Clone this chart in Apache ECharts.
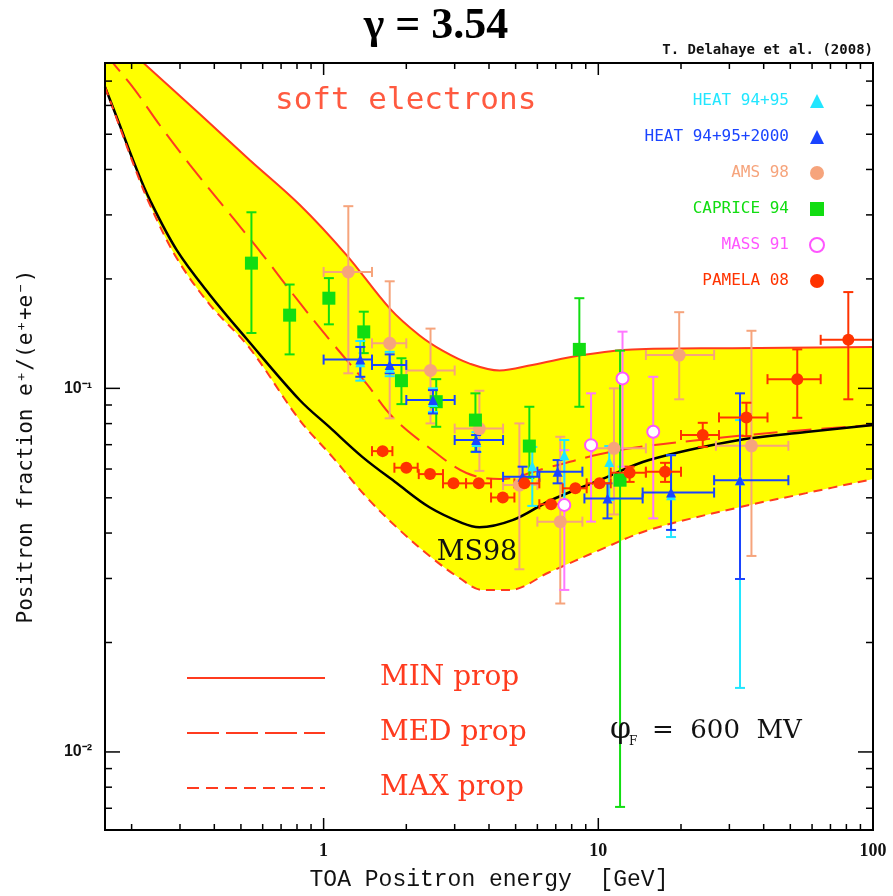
<!DOCTYPE html>
<html>
<head>
<meta charset="utf-8">
<title>Positron fraction, gamma = 3.54</title>
<script src="https://cdn.jsdelivr.net/npm/echarts@6/dist/echarts.min.js"></script>
<style>
html, body { margin: 0; padding: 0; background: #fff; }
#chart { width: 893px; height: 896px; }
</style>
</head>
<body>
<div id="chart"></div>
<script>
// model curves, [energy GeV, e+/(e+ + e-)]
var minProp = [[0.16, 0.98], [0.22, 0.787], [0.354, 0.568], [0.538, 0.425], [0.818, 0.320], [1.21, 0.233],
  [1.74, 0.166], [2.23, 0.140], [2.71, 0.127], [3.40, 0.117], [4.37, 0.112], [5.75, 0.116], [8.75, 0.1235],
  [13.3, 0.128], [30.7, 0.129], [100, 0.130]];
var medProp = [[0.16, 0.839], [0.171, 0.786], [0.2055, 0.662], [0.253, 0.530], [0.326, 0.412], [0.475, 0.290],
  [0.600, 0.233], [0.818, 0.172], [1.078, 0.133], [1.433, 0.103], [1.782, 0.0834], [2.49, 0.0676], [3.31, 0.0585],
  [4.37, 0.0563], [6.63, 0.0607], [10.1, 0.0659], [14.1, 0.0690], [23.3, 0.0721], [45.5, 0.0758], [100, 0.0793]];
var maxProp = [[0.16, 0.675], [0.181, 0.524], [0.2055, 0.404], [0.233, 0.320], [0.292, 0.228], [0.385, 0.170],
  [0.538, 0.129], [0.818, 0.0818], [1.078, 0.0647], [1.433, 0.0502], [1.889, 0.0408], [2.49, 0.0341], [3.12, 0.0301],
  [3.79, 0.0279], [4.75, 0.0279], [6.63, 0.0312], [10.1, 0.0359], [15.3, 0.0408], [32.6, 0.0471], [57.1, 0.0515],
  [100, 0.0563]];
var ms98 = [[0.16, 0.675], [0.181, 0.530], [0.2055, 0.412], [0.233, 0.330], [0.292, 0.240], [0.385, 0.181],
  [0.525, 0.1367], [0.818, 0.0929], [1.051, 0.0782], [1.386, 0.0647], [1.843, 0.0549], [2.429, 0.0471], [3.20, 0.0426],
  [3.69, 0.0415], [4.87, 0.0434], [6.63, 0.0490], [10.1, 0.0559], [15.3, 0.0635], [32.6, 0.0721], [57.1, 0.0758],
  [100, 0.0793]];

// measurements, [E, E low, E high, fraction, fraction low, fraction high]
var heat9495 = [
  [1.36, 1.36, 1.36, 0.118, 0.105, 0.135], [1.74, 1.74, 1.74, 0.114, 0.108, 0.126],
  [2.50, 2.50, 2.50, 0.0917, 0.0861, 0.100], [3.60, 3.60, 3.60, 0.0712, 0.0668, 0.0758],
  [5.75, 5.75, 5.75, 0.0611, 0.0475, 0.0690], [7.52, 7.52, 7.52, 0.0655, 0.0469, 0.0721],
  [10.96, 10.96, 10.96, 0.0627, 0.0493, 0.0694], [18.4, 18.4, 18.4, 0.0508, 0.0390, 0.0655],
  [32.8, 32.8, 32.8, 0.0559, 0.0150, 0.0818]];
var heat2000 = [
  [1.36, 1.0, 1.5, 0.120, 0.1076, 0.130], [1.74, 1.5, 2.0, 0.116, 0.110, 0.124],
  [2.50, 2.0, 3.0, 0.0929, 0.0853, 0.0989], [3.59, 3.0, 4.5, 0.0721, 0.0669, 0.0744],
  [5.30, 4.5, 6.1, 0.0571, 0.0553, 0.0609], [7.11, 6.0, 8.75, 0.0590, 0.0548, 0.0635],
  [10.8, 8.9, 14.5, 0.0498, 0.0439, 0.0548], [18.4, 14.5, 26.4, 0.0517, 0.0408, 0.0655],
  [32.8, 26.4, 49.2, 0.0559, 0.0299, 0.0969]];
var ams98 = [
  [1.23, 1.0, 1.5, 0.209, 0.110, 0.317], [1.74, 1.5, 2.0, 0.133, 0.0827, 0.197],
  [2.45, 2.0, 3.0, 0.112, 0.0801, 0.146], [3.69, 3.0, 4.5, 0.0775, 0.0593, 0.0985],
  [5.16, 4.5, 6.0, 0.0542, 0.0318, 0.0801], [7.27, 6.0, 8.75, 0.0430, 0.0256, 0.0736],
  [11.4, 9.5, 14.9, 0.0684, 0.045, 0.100], [19.7, 14.9, 26.4, 0.1235, 0.0933, 0.162],
  [36.1, 26.8, 49.2, 0.0695, 0.0346, 0.144]];
var caprice94 = [
  [0.546, 0.546, 0.546, 0.221, 0.142, 0.305], [0.752, 0.752, 0.752, 0.159, 0.124, 0.193],
  [1.045, 1.045, 1.045, 0.177, 0.150, 0.201], [1.40, 1.40, 1.40, 0.143, 0.125, 0.1625],
  [1.92, 1.92, 1.92, 0.105, 0.0905, 0.121], [2.57, 2.57, 2.57, 0.0919, 0.0784, 0.106],
  [3.57, 3.57, 3.57, 0.0818, 0.0669, 0.0969], [5.61, 5.61, 5.61, 0.0694, 0.0567, 0.0890],
  [8.53, 8.53, 8.53, 0.128, 0.0890, 0.177], [12.0, 12.0, 12.0, 0.0559, 0.00706, 0.127]];
var mass91 = [
  [7.52, 7.52, 7.52, 0.0478, 0.0279, 0.0676], [9.41, 9.41, 9.41, 0.0698, 0.0430, 0.0969],
  [12.25, 12.25, 12.25, 0.1065, 0.0609, 0.1432], [15.85, 15.85, 15.85, 0.0760, 0.0439, 0.1076]];
var pamela08 = [
  [1.64, 1.50, 1.78, 0.0672, 0.0672, 0.0672], [2.00, 1.81, 2.20, 0.0605, 0.0605, 0.0605],
  [2.44, 2.22, 2.72, 0.0581, 0.0581, 0.0581], [2.97, 2.72, 3.30, 0.0548, 0.0548, 0.0548],
  [3.67, 3.30, 4.07, 0.0548, 0.0548, 0.0548], [4.49, 4.07, 4.95, 0.0501, 0.0501, 0.0501],
  [5.38, 4.95, 6.10, 0.0548, 0.0548, 0.0548], [6.73, 6.10, 7.42, 0.0480, 0.0480, 0.0480],
  [8.25, 7.42, 9.07, 0.0531, 0.0531, 0.0531], [10.1, 9.07, 11.1, 0.0548, 0.0548, 0.0548],
  [13.0, 11.1, 14.9, 0.0586, 0.0553, 0.0609], [17.5, 14.9, 20.0, 0.0590, 0.0553, 0.0624],
  [24.0, 20.0, 27.5, 0.0744, 0.0690, 0.0804], [34.6, 27.5, 41.3, 0.0832, 0.0739, 0.0913],
  [53.0, 41.3, 64.5, 0.106, 0.083, 0.128], [81.3, 64.5, 100, 0.136, 0.0933, 0.184]];

// axis ticks
var xMajor = [1, 10, 100];
var xMinor = [0.2, 0.3, 0.4, 0.5, 0.6, 0.7, 0.8, 0.9, 2, 3, 4, 5, 6, 7, 8, 9, 20, 30, 40, 50, 60, 70, 80, 90];
var yMajor = [0.01, 0.1];
var yMinor = [0.007, 0.008, 0.009, 0.02, 0.03, 0.04, 0.05, 0.06, 0.07, 0.08, 0.09, 0.2, 0.3, 0.4, 0.5, 0.6, 0.7];

var RED = '#ff3b1f';
var SMOOTH = 0.35;

function seg(x1, y1, x2, y2, color, w) {
  return { type: 'line', shape: { x1: x1, y1: y1, x2: x2, y2: y2 }, style: { stroke: color, lineWidth: w } };
}

function txt(x, y, text, size, family, color, align, weight) {
  return {
    type: 'text', x: x, y: y, z: 10,
    style: { text: text, fontSize: size, fontFamily: family, fontWeight: weight || 'normal', fill: color, align: align || 'left', verticalAlign: 'middle' }
  };
}

function errorSeries(rows, color, z) {
  return {
    type: 'custom', data: rows, encode: { x: 0, y: 3 }, clip: true, silent: true, z: z,
    renderItem: function (params, api) {
      var e = api.value(0), f = api.value(3);
      var c = api.coord([e, f]);
      var cl = api.coord([api.value(1), f]), cr = api.coord([api.value(2), f]);
      var cb = api.coord([e, api.value(4)]), ct = api.coord([e, api.value(5)]);
      var kids = [];
      if (cb[1] - ct[1] > 1) {
        kids.push(seg(c[0], ct[1], c[0], cb[1], color, 2));
        kids.push(seg(c[0] - 5, ct[1], c[0] + 5, ct[1], color, 2));
        kids.push(seg(c[0] - 5, cb[1], c[0] + 5, cb[1], color, 2));
      }
      if (cr[0] - cl[0] > 1) {
        kids.push(seg(cl[0], c[1], cr[0], c[1], color, 2));
        kids.push(seg(cl[0], c[1] - 5, cl[0], c[1] + 5, color, 2));
        kids.push(seg(cr[0], c[1] - 5, cr[0], c[1] + 5, color, 2));
      }
      return { type: 'group', children: kids };
    }
  };
}

function markerSeries(name, rows, symbol, size, color, z, empty) {
  return {
    type: 'scatter', name: name, z: z, symbol: symbol, symbolSize: size,
    data: rows.map(function (r) { return [r[0], r[3]]; }),
    itemStyle: empty ? { color: color, borderColor: color, borderWidth: 2, opacity: 1 } : { color: color, opacity: 1 }
  };
}

function lineSeries(name, data, color, width, dash) {
  return {
    type: 'line', name: name, data: data, showSymbol: false, z: 3, silent: true, smooth: SMOOTH,
    lineStyle: { color: color, width: width, type: dash }
  };
}

// filled area under a curve, used to paint the band between MIN and MAX
function areaSeries(data, color, z) {
  return {
    type: 'line', data: data, showSymbol: false, z: z, silent: true, smooth: SMOOTH,
    lineStyle: { width: 0 }, areaStyle: { color: color, opacity: 1, origin: 'start' }
  };
}

function isDecade(v) {
  var l = Math.log10(v);
  return Math.abs(l - Math.round(l)) < 1e-6;
}

var chart = echarts.init(document.getElementById('chart'));
chart.setOption({
  animation: false,
  backgroundColor: '#fff',
  grid: { left: 105, right: 20, top: 63, bottom: 66, show: false },
  xAxis: {
    type: 'log', logBase: 10, min: 0.16, max: 100,
    name: 'TOA Positron energy  [GeV]', nameLocation: 'middle', nameGap: 38,
    nameTextStyle: { fontFamily: 'Liberation Mono', fontSize: 23, color: '#111' },
    axisLine: { show: false }, axisTick: { show: false }, splitLine: { show: false },
    axisLabel: {
      margin: 12, fontFamily: 'Liberation Serif', fontWeight: 'bold', fontSize: 18, color: '#111',
      formatter: function (v) { return isDecade(v) ? String(Math.round(v)) : ''; }
    }
  },
  yAxis: {
    type: 'log', logBase: 10, min: 0.0061, max: 0.785,
    name: 'Positron fraction e\u207A/(e\u207A+e\u207B)', nameLocation: 'middle', nameGap: 68,
    nameTextStyle: { fontFamily: 'DejaVu Sans Mono', fontSize: 21, color: '#111' },
    axisLine: { show: false }, axisTick: { show: false }, splitLine: { show: false },
    axisLabel: {
      margin: 13, fontFamily: 'Liberation Sans', fontWeight: 'bold', fontSize: 16, color: '#111',
      formatter: function (v) {
        if (!isDecade(v)) return '';
        var p = Math.round(Math.log10(v));
        return p === -1 ? '10\u207B\u00B9' : '10\u207B\u00B2';
      }
    }
  },
  legend: {
    orient: 'vertical', right: 63, top: 88, align: 'right', itemGap: 20,
    itemWidth: 14, itemHeight: 14, selectedMode: false,
    textStyle: { fontFamily: 'DejaVu Sans Mono', fontSize: 16, padding: [0, 16, 0, 0] },
    data: [
      { name: 'HEAT 94+95', icon: 'triangle', textStyle: { color: '#22e6ff' } },
      { name: 'HEAT 94+95+2000', icon: 'triangle', textStyle: { color: '#1a44ff' } },
      { name: 'AMS 98', icon: 'circle', textStyle: { color: '#f6a47c' } },
      { name: 'CAPRICE 94', icon: 'rect', textStyle: { color: '#11dd11' } },
      { name: 'MASS 91', icon: 'emptyCircle', textStyle: { color: '#ff55ff' } },
      { name: 'PAMELA 08', icon: 'circle', textStyle: { color: '#ff3300' } }
    ]
  },
  graphic: [
    txt(436, 27, '\u03B3 = 3.54', 44, 'Liberation Serif', '#000', 'center', 'bold'),
    txt(873, 50, 'T. Delahaye et al. (2008)', 14, 'DejaVu Sans Mono', '#111', 'right', 'bold'),
    txt(275, 101, 'soft electrons', 31, 'DejaVu Sans Mono', '#ff5a40'),
    txt(477, 553, 'MS98', 27, 'DejaVu Serif', '#111', 'center'),
    { type: 'line', z: 10, shape: { x1: 187, y1: 678, x2: 325, y2: 678 }, style: { stroke: RED, lineWidth: 2 } },
    { type: 'line', z: 10, shape: { x1: 187, y1: 733, x2: 325, y2: 733 }, style: { stroke: RED, lineWidth: 2, lineDash: [32, 7] } },
    { type: 'line', z: 10, shape: { x1: 187, y1: 788, x2: 325, y2: 788 }, style: { stroke: RED, lineWidth: 2, lineDash: [12, 7] } },
    txt(380, 678, 'MIN prop', 28, 'DejaVu Serif', RED),
    txt(380, 733, 'MED prop', 28, 'DejaVu Serif', RED),
    txt(380, 788, 'MAX prop', 28, 'DejaVu Serif', RED),
    txt(610, 730, '\u03C6', 30, 'DejaVu Serif', '#111'),
    txt(629, 742, 'F', 12, 'DejaVu Serif', '#111'),
    txt(652, 731, '=  600  MV', 26, 'DejaVu Serif', '#111')
  ],
  series: [
    areaSeries(minProp, '#ffff00', 1),
    areaSeries(maxProp, '#ffffff', 2),
    lineSeries('MIN prop', minProp, RED, 2, 'solid'),
    lineSeries('MED prop', medProp, RED, 2, [24, 10]),
    lineSeries('MS98', ms98, '#000', 2.5, 'solid'),
    lineSeries('MAX prop', maxProp, RED, 2, [9, 6]),
    errorSeries(ams98, '#f6a47c', 4),
    errorSeries(mass91, '#ff77ff', 4),
    errorSeries(caprice94, '#11dd11', 4),
    errorSeries(heat9495, '#22e6ff', 5),
    errorSeries(heat2000, '#1a44ff', 5),
    errorSeries(pamela08, '#ff3300', 5),
    markerSeries('AMS 98', ams98, 'circle', 13, '#f6a47c', 6),
    markerSeries('MASS 91', mass91, 'emptyCircle', 12, '#ff55ff', 6, true),
    markerSeries('CAPRICE 94', caprice94, 'rect', 13, '#11dd11', 6),
    markerSeries('HEAT 94+95', heat9495, 'triangle', 10, '#22e6ff', 7),
    markerSeries('HEAT 94+95+2000', heat2000, 'triangle', 10, '#1a44ff', 7),
    markerSeries('PAMELA 08', pamela08, 'circle', 12, '#ff3300', 7),
    {
      type: 'custom', name: 'frame', data: [[1, 0.1]], clip: false, silent: true, z: 20,
      renderItem: function (params, api) {
        var cs = params.coordSys;
        var left = cs.x, top = cs.y, right = cs.x + cs.width, bottom = cs.y + cs.height;
        var kids = [{ type: 'rect', shape: { x: left, y: top, width: cs.width, height: cs.height }, style: { fill: 'none', stroke: '#000', lineWidth: 2 } }];
        function xt(list, len) {
          list.forEach(function (v) {
            var px = api.coord([v, 0.1])[0];
            kids.push(seg(px, bottom, px, bottom - len, '#000', 1.5));
            kids.push(seg(px, top, px, top + len, '#000', 1.5));
          });
        }
        function yt(list, len) {
          list.forEach(function (v) {
            var py = api.coord([1, v])[1];
            kids.push(seg(left, py, left + len, py, '#000', 1.5));
            kids.push(seg(right, py, right - len, py, '#000', 1.5));
          });
        }
        xt(xMajor, 12); xt(xMinor, 6);
        yt(yMajor, 15); yt(yMinor, 7);
        return { type: 'group', children: kids };
      }
    }
  ]
});
</script>
</body>
</html>
